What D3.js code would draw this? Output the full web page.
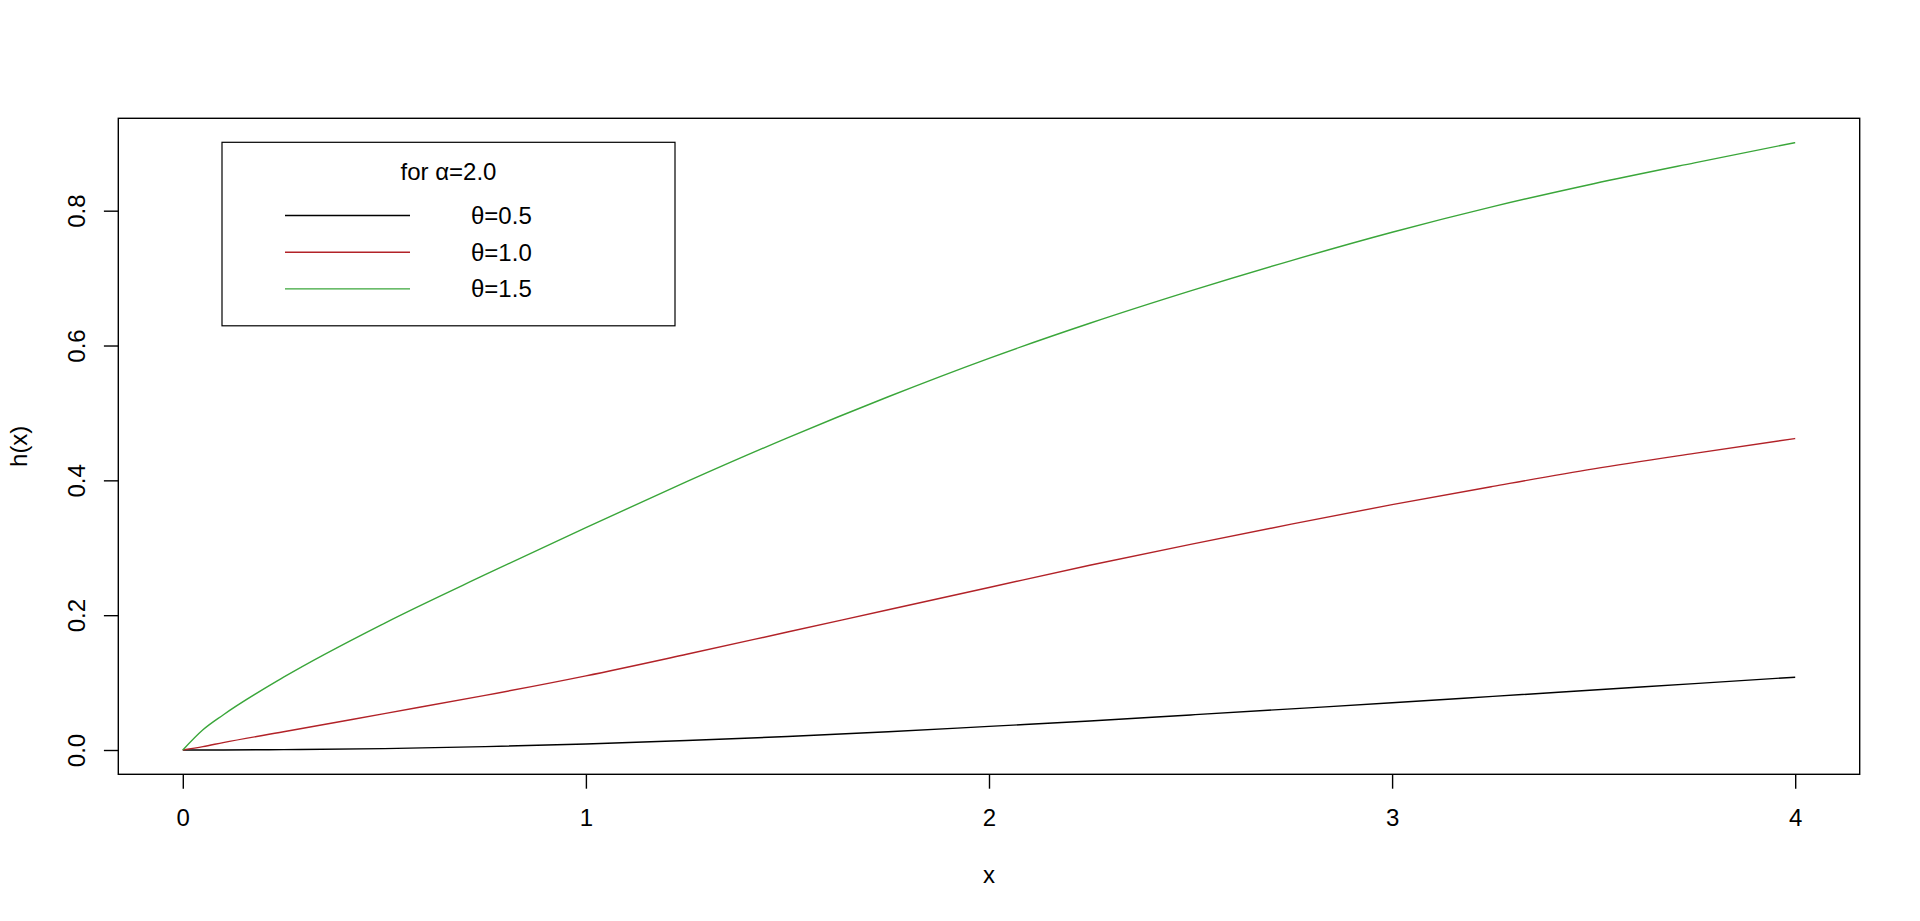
<!DOCTYPE html>
<html>
<head>
<meta charset="utf-8">
<script src="https://cdn.jsdelivr.net/npm/d3@7"></script>
<style>
    body { margin: 0; background: #fff; }
    svg { display: block; font-family: "Liberation Sans", Arial, sans-serif; }
</style>
</head>
<body>
<svg id="chart" width="1920" height="921"></svg>
<script>
// values
const xs      = [0, 0.05, 0.1, 0.25, 0.5, 0.75, 1, 1.25, 1.5, 1.75, 2, 2.25, 2.5, 2.75, 3, 3.25, 3.5, 3.75, 4];
const theta05 = [0, 0, 0.0001, 0.0005, 0.002, 0.005, 0.009, 0.014, 0.020, 0.027, 0.035, 0.043, 0.052, 0.061, 0.070, 0.0795, 0.089, 0.0985, 0.108];
const theta10 = [0, 0.005, 0.011, 0.027, 0.054, 0.081, 0.110, 0.142, 0.175, 0.208, 0.241, 0.274, 0.305, 0.335, 0.364, 0.391, 0.417, 0.440, 0.462];
const theta15 = [0, 0.030, 0.052, 0.108, 0.188, 0.260, 0.330, 0.398, 0.463, 0.524, 0.581, 0.633, 0.681, 0.726, 0.768, 0.806, 0.840, 0.871, 0.901];

const seriesNames  = ["θ=0.5", "θ=1.0", "θ=1.5"];
const seriesColors = ["#000000", "#b22228", "#3aa63a"];
const xTicks = [0, 1, 2, 3, 4];
const yTicks = [0, 0.2, 0.4, 0.6, 0.8];
const legendTitle = "for α=2.0";

function padRange(lo, hi) {
    // same 4% widening as R's default axes
    const pad = (hi - lo) * 0.04;
    return [lo - pad, hi + pad];
}

function drawChart() {
    const svg = d3.select("#chart");
    const margin = {left: 118.3, top: 118.3, right: 60.3, bottom: 146.7};
    const width = 1920 - margin.left - margin.right;
    const height = 921 - margin.top - margin.bottom;
    const fontSize = 24;

    const series = [theta05, theta10, theta15];
    const allY = series.flat();

    const x = d3.scaleLinear()
        .domain(padRange(d3.min(xs), d3.max(xs)))
        .range([0, width]);
    const y = d3.scaleLinear()
        .domain(padRange(d3.min(allY), d3.max(allY)))
        .range([height, 0]);

    const g = svg.append("g")
        .attr("transform", `translate(${margin.left},${margin.top})`);

    const line = d3.line()
        .x(d => x(d[0]))
        .y(d => y(d[1]))
        .curve(d3.curveMonotoneX);

    g.append("g")
        .selectAll("path")
        .data(series)
        .enter().append("path")
        .attr("d", vals => line(xs.map((v, i) => [v, vals[i]])))
        .attr("fill", "none")
        .attr("stroke", (d, i) => seriesColors[i])
        .attr("stroke-width", 1.4);

    // box round the plot
    g.append("rect")
        .attr("width", width)
        .attr("height", height)
        .attr("fill", "none")
        .attr("stroke", "#000")
        .attr("stroke-width", 1.4);

    const xAxis = g.append("g")
        .attr("transform", `translate(0,${height})`)
        .call(d3.axisBottom(x).tickValues(xTicks).tickFormat(d3.format("d"))
            .tickSize(14.4).tickPadding(20.6));
    xAxis.select(".domain").remove();

    const yAxis = g.append("g")
        .call(d3.axisLeft(y).tickValues(yTicks).tickFormat(d3.format(".1f"))
            .tickSize(14.4));
    yAxis.select(".domain").remove();
    yAxis.selectAll("text")
        .attr("x", null)
        .attr("dy", null)
        .attr("text-anchor", "middle")
        .attr("transform", "translate(-33.7,0) rotate(-90)");

    [xAxis, yAxis].forEach(ax => {
        ax.selectAll("line").attr("stroke", "#000").attr("stroke-width", 1.4);
        ax.selectAll("text")
            .attr("fill", "#000")
            .style("font-size", `${fontSize}px`)
            .style("font-family", "\"Liberation Sans\", Arial, sans-serif");
    });

    svg.append("text")
        .attr("x", x(2) + margin.left)
        .attr("y", 883)
        .attr("text-anchor", "middle")
        .style("font-size", `${fontSize}px`)
        .text("x");

    svg.append("text")
        .attr("transform", `translate(27,${margin.top + height / 2}) rotate(-90)`)
        .attr("text-anchor", "middle")
        .style("font-size", `${fontSize}px`)
        .text("h(x)");

    drawLegend(svg, fontSize);
}

function drawLegend(svg, fontSize) {
    const box = {x: 222, y: 142.3, w: 453, h: 183.5};
    const lg = svg.append("g");

    lg.append("rect")
        .attr("x", box.x)
        .attr("y", box.y)
        .attr("width", box.w)
        .attr("height", box.h)
        .attr("fill", "#fff")
        .attr("stroke", "#000")
        .attr("stroke-width", 1.2);

    lg.append("text")
        .attr("x", 448.5)
        .attr("y", 179.8)
        .attr("text-anchor", "middle")
        .style("font-size", `${fontSize}px`)
        .text(legendTitle);

    const rowY = d3.scaleLinear().domain([0, 1]).range([215.5, 252.2]);

    const rows = lg.selectAll("g.row")
        .data(seriesNames)
        .enter().append("g")
        .attr("class", "row")
        .attr("transform", (d, i) => `translate(0,${rowY(i)})`);

    rows.append("line")
        .attr("x1", 285)
        .attr("x2", 410)
        .attr("stroke", (d, i) => seriesColors[i])
        .attr("stroke-width", 1.4);

    rows.append("text")
        .attr("x", 471)
        .attr("y", 8.5)
        .style("font-size", `${fontSize}px`)
        .text(d => d);
}

drawChart();
</script>
</body>
</html>
